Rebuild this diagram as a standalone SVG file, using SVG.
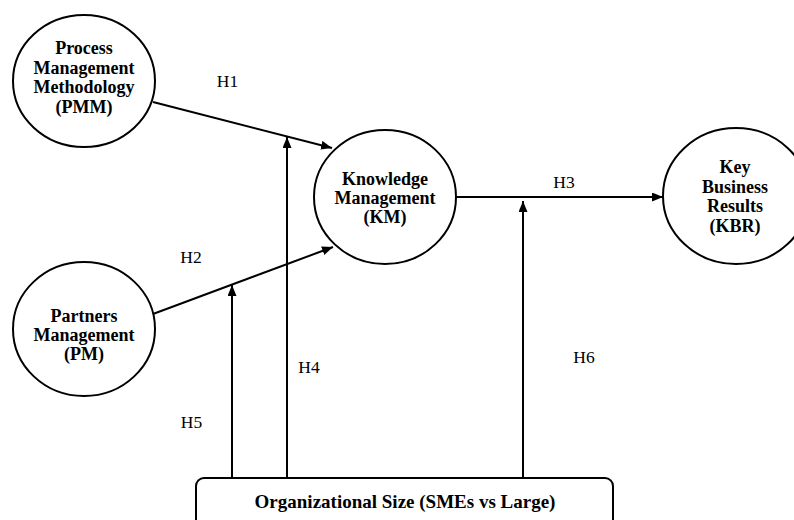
<svg xmlns="http://www.w3.org/2000/svg" width="794" height="520" viewBox="0 0 794 520">
<style>
.node{fill:#fff;stroke:#000;stroke-width:2}
.nt{font-family:"Liberation Serif","Times New Roman",serif;font-weight:bold;font-size:18px;text-anchor:middle;fill:#000}
.lbl{font-family:"Liberation Serif","Times New Roman",serif;font-size:17.5px;text-anchor:middle;fill:#000}
.edge{stroke:#000;stroke-width:2;fill:none;marker-end:url(#ah)}
</style>
<defs>
<marker id="ah" markerUnits="userSpaceOnUse" markerWidth="11" markerHeight="9" refX="11" refY="4.5" orient="auto">
<path d="M0,0 L11,4.5 L0,9 z" fill="#000"/>
</marker>
</defs>
<rect width="794" height="520" fill="#fff"/>
<g id="connectors">
<line class="edge" x1="153" y1="102" x2="332" y2="148"/>
<line class="edge" x1="153" y1="314" x2="333" y2="247"/>
<line class="edge" x1="456" y1="197" x2="663" y2="197"/>
<line class="edge" x1="287" y1="478" x2="287" y2="137"/>
<line class="edge" x1="232" y1="478" x2="232" y2="285"/>
<line class="edge" x1="523" y1="478" x2="523" y2="201"/>
<text class="lbl" x="227.5" y="87">H1</text>
<text class="lbl" x="191" y="263">H2</text>
<text class="lbl" x="564" y="188">H3</text>
<text class="lbl" x="309" y="373">H4</text>
<text class="lbl" x="191.5" y="428">H5</text>
<text class="lbl" x="584" y="363">H6</text>
</g>
<g id="pmm">
<ellipse class="node" cx="84" cy="81" rx="71" ry="66"/>
<text class="nt" x="84" y="54">Process</text>
<text class="nt" x="84" y="73.5">Management</text>
<text class="nt" x="84" y="93">Methodology</text>
<text class="nt" x="84" y="112.5">(PMM)</text>
</g>
<g id="pm">
<ellipse class="node" cx="84" cy="329" rx="71" ry="67"/>
<text class="nt" x="84" y="322">Partners</text>
<text class="nt" x="84" y="341">Management</text>
<text class="nt" x="84" y="360">(PM)</text>
</g>
<g id="km">
<ellipse class="node" cx="385" cy="197" rx="71" ry="67"/>
<text class="nt" x="385" y="185">Knowledge</text>
<text class="nt" x="385" y="204">Management</text>
<text class="nt" x="385" y="223">(KM)</text>
</g>
<g id="kbr">
<ellipse class="node" cx="736" cy="196" rx="73" ry="68"/>
<text class="nt" x="735" y="173">Key</text>
<text class="nt" x="735" y="192.5">Business</text>
<text class="nt" x="735" y="212">Results</text>
<text class="nt" x="735" y="231.5">(KBR)</text>
</g>
<g id="orgsize">
<rect class="node" x="196" y="478" width="417" height="60" rx="8"/>
<text class="nt" x="405" y="508" style="font-size:19px">Organizational Size (SMEs vs Large)</text>
</g>
</svg>
